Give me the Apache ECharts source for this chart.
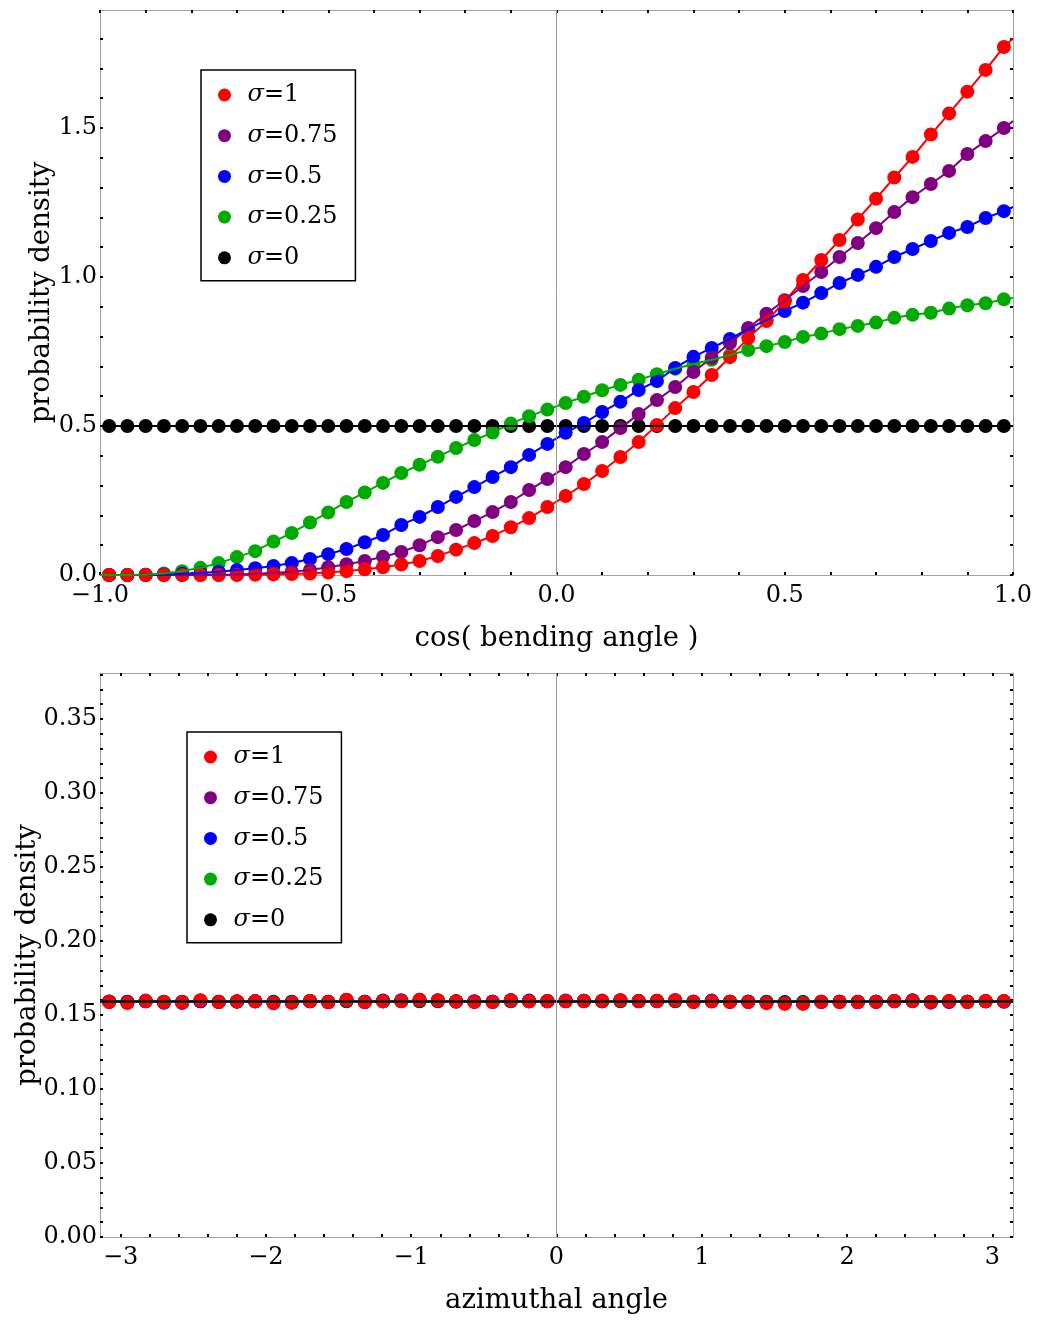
<!DOCTYPE html>
<html><head><meta charset="utf-8">
<script src="https://cdn.jsdelivr.net/npm/echarts@6/dist/echarts.min.js"></script>
<style>html,body{margin:0;padding:0;background:#fff}#c{width:1040px;height:1320px}</style>
</head><body><div id="c"></div>
<script>
// ---------- data ----------
const seriesNames = ['σ=1', 'σ=0.75', 'σ=0.5', 'σ=0.25', 'σ=0'];
const seriesColors = ['#ff0000', '#800080', '#0000ff', '#00aa00', '#000000'];

// top panel: cos(bending angle)
const topX = [-0.98,-0.94,-0.90,-0.86,-0.82,-0.78,-0.74,-0.70,-0.66,-0.62,-0.58,-0.54,-0.50,-0.46,-0.42,-0.38,-0.34,-0.30,-0.26,-0.22,-0.18,-0.14,-0.10,-0.06,-0.02,0.02,0.06,0.10,0.14,0.18,0.22,0.26,0.30,0.34,0.38,0.42,0.46,0.50,0.54,0.58,0.62,0.66,0.70,0.74,0.78,0.82,0.86,0.90,0.94,0.98];
const topRed = [0,0,0,0,0,0,0,0,0.001,0.002,0.003,0.005,0.008,0.013,0.019,0.026,0.035,0.047,0.064,0.085,0.107,0.131,0.160,0.191,0.228,0.265,0.305,0.349,0.396,0.446,0.503,0.560,0.614,0.671,0.731,0.795,0.852,0.918,0.990,1.057,1.124,1.193,1.263,1.334,1.403,1.478,1.549,1.622,1.695,1.772];
const topPurple = [0,0,0,0,0,0.001,0.001,0.002,0.004,0.007,0.011,0.017,0.026,0.036,0.047,0.061,0.077,0.100,0.127,0.151,0.181,0.211,0.245,0.285,0.322,0.362,0.406,0.446,0.493,0.540,0.587,0.631,0.681,0.729,0.778,0.829,0.877,0.922,0.970,1.017,1.067,1.114,1.164,1.218,1.268,1.312,1.356,1.413,1.456,1.500];
const topBlue = [0,0,0.001,0.002,0.004,0.007,0.011,0.017,0.023,0.030,0.040,0.054,0.070,0.087,0.110,0.134,0.168,0.195,0.228,0.262,0.295,0.329,0.362,0.403,0.440,0.477,0.510,0.547,0.581,0.621,0.651,0.695,0.732,0.762,0.792,0.826,0.856,0.886,0.914,0.946,0.980,1.007,1.034,1.067,1.094,1.121,1.148,1.168,1.198,1.221];
const topGreen = [0,0,0.001,0.005,0.013,0.024,0.040,0.060,0.080,0.112,0.141,0.176,0.210,0.245,0.277,0.309,0.342,0.370,0.397,0.426,0.453,0.478,0.508,0.533,0.555,0.577,0.598,0.620,0.638,0.655,0.674,0.692,0.708,0.722,0.738,0.755,0.768,0.782,0.799,0.810,0.825,0.836,0.847,0.863,0.873,0.880,0.894,0.905,0.912,0.925];
const topBlack = [0.5,0.5,0.5,0.5,0.5,0.5,0.5,0.5,0.5,0.5,0.5,0.5,0.5,0.5,0.5,0.5,0.5,0.5,0.5,0.5,0.5,0.5,0.5,0.5,0.5,0.5,0.5,0.5,0.5,0.5,0.5,0.5,0.5,0.5,0.5,0.5,0.5,0.5,0.5,0.5,0.5,0.5,0.5,0.5,0.5,0.5,0.5,0.5,0.5,0.5];
// theoretical curve values at the panel edges (x = -1 and x = 1), order as seriesNames
const topLineAtMinus1 = [0, 0, 0, 0, 0.5];
const topLineAtPlus1 = [1.800, 1.523, 1.235, 0.930, 0.5];

// bottom panel: azimuthal angle
const botX = [-3.0788,-2.9531,-2.8274,-2.7018,-2.5761,-2.4504,-2.3248,-2.1991,-2.0735,-1.9478,-1.8221,-1.6965,-1.5708,-1.4451,-1.3195,-1.1938,-1.0681,-0.9425,-0.8168,-0.6912,-0.5655,-0.4398,-0.3142,-0.1885,-0.0628,0.0628,0.1885,0.3142,0.4398,0.5655,0.6912,0.8168,0.9425,1.0681,1.1938,1.3195,1.4451,1.5708,1.6965,1.8221,1.9478,2.0735,2.1991,2.3248,2.4504,2.5761,2.7018,2.8274,2.9531,3.0788];
const botRed = [0.1587,0.1581,0.1594,0.1587,0.1585,0.1599,0.1587,0.1592,0.1592,0.1581,0.1583,0.1594,0.1587,0.1603,0.1587,0.1592,0.1594,0.1603,0.1599,0.1592,0.1587,0.1587,0.1599,0.1592,0.1592,0.1594,0.1594,0.1594,0.1599,0.1594,0.1594,0.1599,0.1587,0.1592,0.1587,0.1587,0.1581,0.1576,0.1576,0.1587,0.1587,0.1587,0.1587,0.1594,0.1594,0.1587,0.1594,0.1587,0.1594,0.1594];
const botPurple = [0.1589,0.1588,0.1597,0.1588,0.1581,0.1597,0.1588,0.1591,0.1593,0.1580,0.1584,0.1594,0.1585,0.1601,0.1585,0.1593,0.1595,0.1601,0.1598,0.1590,0.1589,0.1589,0.1599,0.1593,0.1594,0.1593,0.1596,0.1597,0.1598,0.1594,0.1595,0.1598,0.1589,0.1592,0.1590,0.1589,0.1583,0.1578,0.1578,0.1589,0.1589,0.1586,0.1590,0.1595,0.1597,0.1588,0.1593,0.1589,0.1593,0.1593];
const botBlue = [0.1589,0.1584,0.1593,0.1582,0.1586,0.1593,0.1588,0.1591,0.1593,0.1583,0.1584,0.1593,0.1588,0.1601,0.1589,0.1598,0.1600,0.1602,0.1598,0.1593,0.1593,0.1589,0.1599,0.1597,0.1593,0.1598,0.1596,0.1592,0.1599,0.1594,0.1596,0.1600,0.1590,0.1597,0.1589,0.1590,0.1584,0.1579,0.1578,0.1588,0.1589,0.1588,0.1589,0.1594,0.1599,0.1583,0.1588,0.1589,0.1592,0.1589];
const botGreen = [0.1589,0.1586,0.1592,0.1588,0.1587,0.1594,0.1589,0.1591,0.1592,0.1585,0.1586,0.1593,0.1588,0.1598,0.1589,0.1593,0.1595,0.1598,0.1596,0.1592,0.1590,0.1589,0.1595,0.1593,0.1593,0.1595,0.1594,0.1593,0.1596,0.1593,0.1594,0.1596,0.1589,0.1593,0.1589,0.1589,0.1586,0.1583,0.1582,0.1589,0.1589,0.1588,0.1589,0.1593,0.1595,0.1588,0.1592,0.1589,0.1593,0.1592];
const botBlack = [0.1591,0.1590,0.1592,0.1590,0.1589,0.1592,0.1590,0.1591,0.1592,0.1589,0.1590,0.1592,0.1590,0.1593,0.1590,0.1592,0.1592,0.1593,0.1592,0.1591,0.1590,0.1590,0.1592,0.1592,0.1592,0.1592,0.1592,0.1592,0.1592,0.1592,0.1592,0.1592,0.1590,0.1592,0.1590,0.1590,0.1589,0.1588,0.1588,0.1590,0.1590,0.1590,0.1590,0.1592,0.1592,0.1590,0.1592,0.1590,0.1592,0.1592];
// theoretical uniform level 1/(2π) for each sigma
const botLineLevel = [0.15915, 0.15915, 0.15915, 0.15915, 0.15915];

// axis ranges and tick labels
const topXRange = [-1, 1];
const topYRange = [0, 1.896];
const topXLabels = [-1, -0.5, 0, 0.5, 1];
const topYLabels = [0, 0.5, 1, 1.5];
const botXRange = [-Math.PI, Math.PI];
const botYRange = [0, 0.381];
const botXLabels = [-3, -2, -1, 0, 1, 2, 3];
const botYLabels = [0, 0.05, 0.1, 0.15, 0.2, 0.25, 0.3, 0.35];

// ---------- helpers ----------
const FONT = 'DejaVu Serif';
const AXIS_GRAY = '#a0a0a0';
function steps(a, b, s) { const out = []; const n = Math.round((b - a) / s); for (let i = 0; i <= n; i++) out.push(+(a + i * s).toFixed(6)); return out; }
const minus = v => (v < 0 ? '\u2212' : '');
const fmt = d => v => minus(v) + Math.abs(v).toFixed(d);

function makeAxis(dim, gi, range, labels, ticks, pos, showLabels, labFmt, name, nameGap) {
  const ax = {
    gridIndex: gi, type: 'value', min: range[0], max: range[1], position: pos,
    axisLine: { show: true, onZero: false, lineStyle: { color: AXIS_GRAY, width: 1 } },
    axisTick: { show: true, inside: true, length: 3, customValues: ticks, lineStyle: { color: '#000', width: 2 } },
    axisLabel: { show: showLabels, customValues: labels, formatter: labFmt, fontFamily: FONT, fontSize: 24, color: '#000', margin: dim === 'x' ? 9 : 3 },
    splitLine: { show: false }, minorTick: { show: false }, minorSplitLine: { show: false }
  };
  if (name) {
    ax.name = name; ax.nameLocation = 'middle'; ax.nameGap = nameGap; ax.nameMoveOverlap = false;
    ax.nameTextStyle = { fontFamily: FONT, fontSize: 27.5, color: '#000' };
  }
  return ax;
}

const topXTicks = steps(-1, 1, 0.1);
const topYTicks = steps(0, 1.8, 0.1);
const botXTicks = steps(-3, 3, 0.2);
const botYTicks = steps(0, 0.38, 0.01);

const xAxes = [
  makeAxis('x', 0, topXRange, topXLabels, topXTicks, 'bottom', true, fmt(1), 'cos( bending angle )', 50),
  makeAxis('x', 0, topXRange, topXLabels, topXTicks, 'top', false, fmt(1)),
  makeAxis('x', 1, botXRange, botXLabels, botXTicks, 'bottom', true, fmt(0), 'azimuthal angle', 50),
  makeAxis('x', 1, botXRange, botXLabels, botXTicks, 'top', false, fmt(0))
];
const yAxes = [
  makeAxis('y', 0, topYRange, topYLabels, topYTicks, 'left', true, fmt(1), 'probability density', 44),
  makeAxis('y', 0, topYRange, topYLabels, topYTicks, 'right', false, fmt(1)),
  makeAxis('y', 1, botYRange, botYLabels, botYTicks, 'left', true, fmt(2), 'probability density', 58),
  makeAxis('y', 1, botYRange, botYLabels, botYTicks, 'right', false, fmt(2))
];

const topDots = [topRed, topPurple, topBlue, topGreen, topBlack];
const botDots = [botRed, botPurple, botBlue, botGreen, botBlack];
const zip = (xs, ys) => xs.map((x, i) => [x, ys[i]]);

const series = [];
const drawOrder = [4, 3, 2, 1, 0]; // black first, red on top
// scatter dots
[[0, topX, topDots], [1, botX, botDots]].forEach(([gi, xs, sets]) => {
  drawOrder.forEach((k, j) => {
    const s = {
      name: seriesNames[k], type: 'scatter', xAxisIndex: gi * 2, yAxisIndex: gi * 2,
      data: zip(xs, sets[k]), symbol: 'circle', symbolSize: 14,
      itemStyle: { color: seriesColors[k], opacity: 1 }, z: 3, silent: true
    };
    if (j === 0) {
      s.markLine = { silent: true, symbol: ['none', 'none'], label: { show: false },
        lineStyle: { color: '#999', width: 1, type: 'solid' }, data: [{ xAxis: 0 }], animation: false };
    }
    series.push(s);
  });
});
// theory lines
[0, 1, 2, 3, 4].forEach(k => {
  series.push({
    name: 'top-line-' + k, type: 'line', xAxisIndex: 0, yAxisIndex: 0, showSymbol: false, z: 4,
    data: [[topXRange[0], topLineAtMinus1[k]]].concat(zip(topX, topDots[k]), [[topXRange[1], topLineAtPlus1[k]]]),
    lineStyle: { color: seriesColors[k], width: 2 }, itemStyle: { color: seriesColors[k] }, silent: true
  });
});
[0, 1, 2, 3, 4].forEach(k => {
  series.push({
    name: 'bot-line-' + k, type: 'line', xAxisIndex: 2, yAxisIndex: 2, showSymbol: false, z: 4,
    data: [[botXRange[0], botLineLevel[k]], [botXRange[1], botLineLevel[k]]],
    lineStyle: { color: seriesColors[k], width: 2 }, itemStyle: { color: seriesColors[k] }, silent: true
  });
});

function legendAt(left, top) {
  return {
    orient: 'vertical', left: left, top: top, itemWidth: 36, itemHeight: 13, itemGap: 16.7,
    padding: [13, 18, 11, 17], borderColor: '#000', borderWidth: 1.5, backgroundColor: '#fff',
    selectedMode: false, icon: 'circle',
    data: seriesNames.map(n => ({ name: n, icon: 'circle' })),
    formatter: n => '{i|σ}{n|' + n.slice(1) + '}',
    textStyle: { fontFamily: FONT, fontSize: 24, color: '#000',
      rich: { i: { fontFamily: FONT, fontSize: 24, fontStyle: 'italic', color: '#000' },
              n: { fontFamily: FONT, fontSize: 24, color: '#000' } } }
  };
}

const option = {
  animation: false,
  backgroundColor: '#fff',
  grid: [
    { left: 100, right: 27, top: 10, height: 565, containLabel: false, outerBoundsMode: 'none' },
    { left: 100, right: 27, top: 673, height: 564, containLabel: false, outerBoundsMode: 'none' }
  ],
  xAxis: xAxes,
  yAxis: yAxes,
  legend: [legendAt(201, 70), legendAt(187, 732)],
  series: series
};
const chart = echarts.init(document.getElementById('c'), null, { renderer: 'canvas' });
chart.setOption(option);
</script></body></html>
